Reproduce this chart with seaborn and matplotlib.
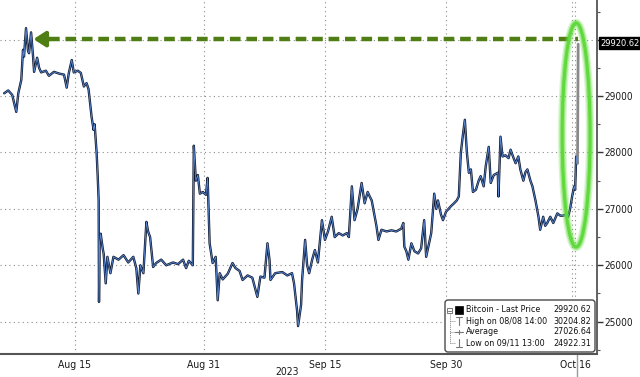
import numpy as np
import pandas as pd
import matplotlib
matplotlib.use("Agg")
import matplotlib.pyplot as plt
import matplotlib.dates as mdates
import matplotlib.transforms as mtrans
from matplotlib.patches import Ellipse, FancyBboxPatch, Rectangle
from matplotlib.lines import Line2D
import seaborn as sns

# ---------------- data ----------------
start_time = "2023-08-06 00:00"
hours_since_start = [
    6, 18, 30, 42, 48, 57, 62, 65, 71, 77, 80, 86, 92, 95, 104, 110, 116, 130, 139, 154,
    169, 184, 192, 198, 207, 213, 225, 234, 243, 251, 257, 263, 266, 272, 275, 281, 284, 287, 288, 290,
    293, 299, 302, 308, 313, 322, 331, 346, 361, 375, 390, 399, 405, 411, 420, 429, 434, 440, 449, 458,
    473, 488, 508, 523, 538, 547, 555, 561, 567, 570, 576, 582, 588, 597, 606, 611, 617, 626, 635, 641,
    647, 656, 671, 685, 694, 706, 715, 730, 744, 759, 768, 780, 789, 795, 798, 812, 833, 848, 862, 868,
    877, 880, 883, 889, 892, 901, 907, 913, 922, 930, 939, 951, 960, 969, 980, 989, 1001, 1013, 1025, 1031,
    1040, 1048, 1057, 1069, 1078, 1087, 1093, 1099, 1104, 1113, 1119, 1128, 1143, 1158, 1172, 1187, 1193, 1196, 1202, 1208,
    1217, 1226, 1237, 1246, 1255, 1261, 1270, 1276, 1285, 1291, 1296, 1305, 1311, 1320, 1326, 1335, 1344, 1352, 1358, 1361,
    1364, 1370, 1376, 1382, 1388, 1394, 1400, 1409, 1417, 1423, 1432, 1438, 1447, 1453, 1462, 1474, 1476, 1482, 1488, 1497,
    1506, 1512, 1521, 1527, 1535, 1541, 1550, 1556, 1562, 1571, 1577, 1586, 1595, 1600, 1609, 1615, 1621, 1630, 1639, 1651,
    1660, 1668, 1677, 1683, 1689, 1695, 1701, 1704, 1707, 1711, 1713,
]
price = [
    29050, 29100, 29020, 28720, 29050, 29290, 29820, 29700, 30204.82, 29800, 29760, 30130, 29700, 29430, 29680, 29500, 29420, 29450, 29360, 29430,
    29400, 29380, 29150, 29400, 29640, 29420, 29450, 29410, 29170, 29230, 29120, 28800, 28630, 28400, 28500, 27990, 27600, 27150, 25350, 26400,
    26560, 26300, 26200, 25680, 26150, 25860, 26150, 26100, 26180, 26050, 26150, 25950, 25500, 26000, 25860, 26770, 26600, 26500, 25970, 26040,
    26100, 26000, 26050, 26020, 26100, 25950, 26080, 26040, 26000, 28120, 27500, 27600, 27270, 27300, 27250, 27550, 26390, 26040, 26150, 25380,
    25860, 25750, 25850, 26040, 25950, 25900, 25740, 25820, 25780, 25440, 25800, 25780, 26390, 26100, 25740, 25860, 25880, 25820, 25860, 25680,
    25200, 24922.31, 25050, 25300, 25740, 26450, 26000, 25860, 26100, 26270, 26050, 26800, 26450, 26600, 26860, 26500, 26570, 26530, 26570, 26500,
    27400, 26800, 27000, 27460, 27100, 27300, 27220, 27150, 26990, 26700, 26450, 26630, 26600, 26620, 26600, 26650, 26750, 26330, 26250, 26100,
    26390, 26250, 26210, 26300, 26800, 26150, 26400, 26570, 27270, 27000, 27150, 26900, 26800, 26950, 26990, 27050, 27100, 27150, 27220, 27600,
    27990, 28300, 28580, 28000, 27640, 27700, 27300, 27340, 27500, 27580, 27400, 27750, 28100, 27460, 27600, 27640, 27220, 28280, 27930, 27950,
    27900, 28050, 27900, 27810, 27930, 27700, 27500, 27650, 27700, 27500, 27400, 27150, 26860, 26630, 26860, 26700, 26750, 26860, 26750, 26920,
    26880, 26880, 26900, 26860, 27000, 27220, 27400, 27340, 27930, 27810, 29920.62,
]

series_name = "Bitcoin - Last Price"
last_price = 29920.62
high_label = "High on 08/08 14:00"
high_value = 30204.82
avg_label = "Average"
avg_value = 27026.64
low_label = "Low on 09/11 13:00"
low_value = 24922.31

y_ticks = [25000, 26000, 27000, 28000, 29000, 30000]
y_tick_labels = ["25000", "26000", "27000", "28000", "29000", ""]  # 30000 sits under the price tag
y_minor_ticks = [24500, 25500, 26500, 27500, 28500, 29500, 30500]
x_tick_dates = ["2023-08-15", "2023-08-31", "2023-09-15", "2023-09-30", "2023-10-16"]
x_tick_labels = ["Aug 15", "Aug 31", "Sep 15", "Sep 30", "Oct 16"]
x_minor_dates = ["2023-08-07", "2023-08-22", "2023-09-08", "2023-09-22", "2023-10-08"]
extra_grid_date = "2023-10-15 14:00"
year_label = "2023"

# ---------------- frame ----------------
df = pd.DataFrame({
    "time": pd.Timestamp(start_time) + pd.to_timedelta(hours_since_start, unit="h"),
    "price": price,
})

sns.set_style("white")
FONT = ["DejaVu Sans"]
plt.rcParams["font.family"] = FONT
plt.rcParams["font.stretch"] = "condensed"
STRETCH = "condensed"

W, H = 640, 377
fig = plt.figure(figsize=(W / 100, H / 100), dpi=100)
ax = fig.add_axes([0, 23 / H, 597 / W, 354 / H])

t0 = pd.Timestamp(start_time)
ax.set_xlim(t0 - pd.Timedelta(hours=6.4), t0 + pd.Timedelta(hours=1769))
ax.set_ylim(24427, 30704)

# grid
ax.set_xticks(pd.to_datetime(x_tick_dates))
ax.set_xticklabels(x_tick_labels, fontstretch=STRETCH)
ax.set_xticks(pd.to_datetime(x_minor_dates), minor=True)
ax.set_yticks(y_ticks)
ax.set_yticklabels(y_tick_labels, fontstretch=STRETCH)
ax.set_yticks(y_minor_ticks, minor=True)
ax.grid(True, which="major", color="#8c8c8c", linestyle=(0, (1, 3)), linewidth=0.8)
ax.axvline(pd.Timestamp(extra_grid_date), color="#8c8c8c", linestyle=(0, (1, 3)), linewidth=0.8)

# series
body = df.iloc[:-1]
sns.lineplot(data=body, x="time", y="price", estimator=None, color="#0f1a33",
             linewidth=1.7, ax=ax, zorder=3)
sns.lineplot(data=body, x="time", y="price", estimator=None, color="#5a8ad6",
             linewidth=0.6, ax=ax, zorder=4)
sns.lineplot(data=df.iloc[-2:], x="time", y="price", estimator=None, color="#8a8a8a",
             linewidth=2.0, ax=ax, zorder=3)
ax.set_xlabel("")
ax.set_ylabel("")

# spines / ticks
for s in ["left", "top"]:
    ax.spines[s].set_visible(False)
ax.spines["right"].set_color("#555555")
ax.spines["bottom"].set_color("#555555")
ax.spines["right"].set_linewidth(1.3)
ax.spines["bottom"].set_linewidth(1.5)
ax.yaxis.tick_right()
ax.tick_params(axis="y", which="major", direction="out", length=4, width=1,
               color="#333333", labelsize=7.2, labelcolor="#1a1a1a", pad=1)
ax.tick_params(axis="y", which="minor", direction="out", length=2, width=0.8, color="#555555")
ax.tick_params(axis="x", which="major", direction="out", length=3, width=0.8,
               color="#555555", labelsize=7.5, labelcolor="#1a1a1a", pad=1.5)
ax.tick_params(axis="x", which="minor", direction="out", length=3, width=0.8, color="#555555")

# current-date marker below the axis
last_t = df["time"].iloc[-1]
blend = mtrans.blended_transform_factory(ax.transData, ax.transAxes)
ax.plot([pd.Timestamp(x_tick_dates[-1]) + pd.Timedelta(hours=5)] * 2, [0, -0.075],
        transform=blend, color="#9a9a9a", lw=1.0, clip_on=False)

# green dashed arrow
green = "#4f7f14"
arrow_y = 30010
ax.plot([t0 + pd.Timedelta(hours=140), last_t], [arrow_y, arrow_y], color=green,
        lw=3.2, linestyle=(0, (2.4, 1.3)), solid_capstyle="butt", dash_capstyle="butt", zorder=6)
ax.annotate("", xy=(t0 + pd.Timedelta(hours=93), arrow_y),
            xytext=(t0 + pd.Timedelta(hours=142), arrow_y),
            arrowprops=dict(arrowstyle="-|>,head_length=0.7,head_width=0.45",
                            color=green, lw=3, shrinkA=0, shrinkB=0), zorder=6)

# green ellipse highlight
ec_t = mdates.date2num(t0 + pd.Timedelta(hours=1707))
for lw_, a_ in [(6, 0.25), (4, 0.45), (2.2, 1.0)]:
    ax.add_patch(Ellipse((ec_t, 28310), width=3.45, height=3972, fill=False,
                         edgecolor="#5fd93b", lw=lw_, alpha=a_, zorder=7))

# last-price tag
def px(x, y):
    return x / W, 1 - y / H

fig.text(*px(600, 43), f"{last_price:.2f}", color="white", fontsize=6.7,
         va="center", ha="left", fontstretch=STRETCH,
         bbox=dict(boxstyle="square,pad=0.15", fc="black", ec="black"), zorder=10)

# legend box (pixel coordinates)
ident = mtrans.IdentityTransform()
box = FancyBboxPatch((445, H - 352), 150, 52, boxstyle="round,pad=0,rounding_size=3",
                     transform=ident, fc="white", ec="#4a4a4a", lw=1.0, zorder=20)
fig.add_artist(box)

rows_y = [310, 321, 332, 343]
labels = [series_name, high_label, avg_label, low_label]
values = [last_price, high_value, avg_value, low_value]
for yy, lab, val in zip(rows_y, labels, values):
    fig.text(*px(466, yy), lab, fontsize=6.4, va="center", ha="left", color="#111111",
             fontstretch=STRETCH, zorder=21)
    fig.text(*px(591, yy), f"{val:.2f}", fontsize=6.4, va="center", ha="right",
             color="#111111", fontstretch=STRETCH, zorder=21)

# legend tree and symbols
def pline(xs, ys, **kw):
    fig.add_artist(Line2D([x / W for x in xs], [1 - y / H for y in ys],
                          transform=fig.transFigure, zorder=22, **kw))

fig.add_artist(Rectangle((447 / W, 1 - 313 / H), 5 / W, 5 / H, transform=fig.transFigure,
                         fill=False, ec="#777777", lw=0.7, zorder=22))
pline([448, 451], [310.5, 310.5], color="#777777", lw=0.7)
pline([449.5, 449.5], [313, 343], color="#888888", lw=0.7, linestyle=(0, (1, 1)))
for yy in rows_y[1:]:
    pline([449.5, 455], [yy, yy], color="#888888", lw=0.7, linestyle=(0, (1, 1)))
fig.add_artist(Rectangle((455 / W, 1 - 314 / H), 8 / W, 8 / H, transform=fig.transFigure,
                         fc="black", ec="black", lw=0.5, zorder=22))
pline([456, 462], [317, 317], color="#777777", lw=0.8)
pline([459, 459], [317, 325], color="#777777", lw=0.8)
pline([455, 463], [332, 332], color="#777777", lw=0.8)
pline([459, 459], [330, 334], color="#777777", lw=0.8)
pline([459, 459], [339, 347], color="#777777", lw=0.8)
pline([456, 462], [347, 347], color="#777777", lw=0.8)

fig.text(*px(287, 372), year_label, fontsize=7.5, ha="center", va="center",
         color="#1a1a1a", fontstretch=STRETCH)

fig.savefig("out.png", dpi=100)
